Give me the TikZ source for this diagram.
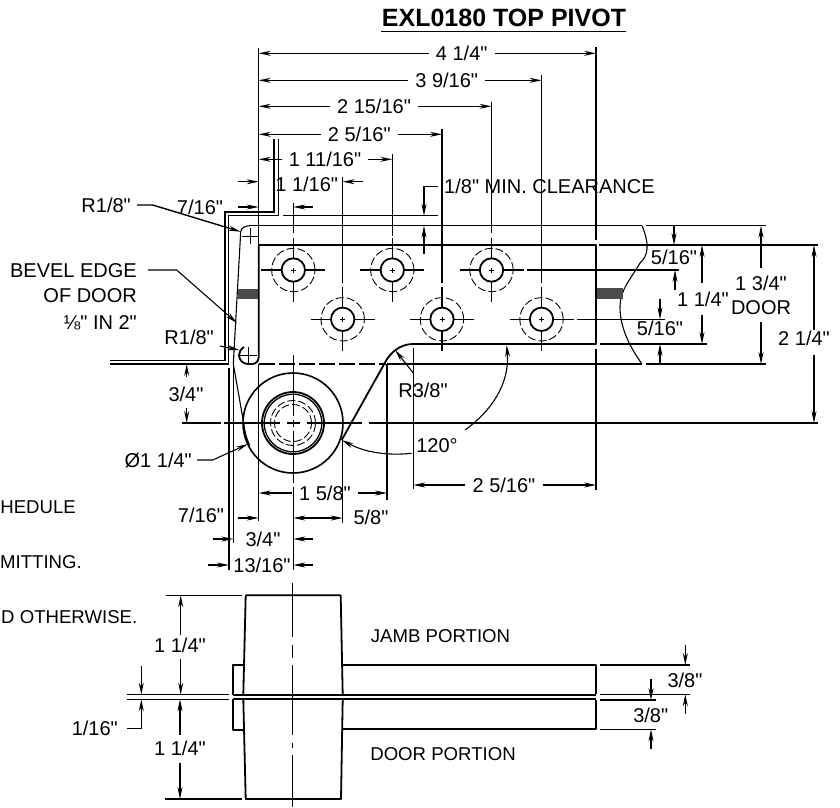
\documentclass[tikz,border=0pt]{standalone}
\usepackage{fontspec}
\setmainfont{Liberation Sans}[Ligatures=TeXOff]
\usetikzlibrary{arrows.meta,patterns}
\tikzset{>={Stealth[length=12pt,width=5pt]}}
\tikzset{
  object/.style={line width=1.8pt,line join=round},
  dimline/.style={line width=1.1pt},
  hair/.style={line width=.8pt},
  hidden/.style={line width=.9pt,dash pattern=on 8pt off 3pt},
  dimtext/.style={font=\fontsize{20}{24}\selectfont,text height=14.3pt,text depth=0pt,inner ysep=0pt,inner xsep=7pt},
  note/.style={font=\fontsize{18.6}{22}\selectfont,text height=13.3pt,text depth=0pt,inner sep=0pt},
  hatchbar/.style={fill=black!70,draw=none},
}
\begin{document}
\begin{tikzpicture}[x=1pt,y=-1pt]
\useasboundingbox (0,0) rectangle (840,807);
\coordinate (pivot) at (293,423);
\node (title) [font=\fontsize{25}{30}\selectfont\bfseries,text height=18pt,text depth=0pt,inner sep=0pt] at (504,17) {EXL0180 TOP PIVOT};
\draw[line width=1pt] (381,31.7) -- (626,31.7);

\node (w414) [dimtext] at (461.7,53.3) {4 1/4"};
\node (w39) [dimtext] at (446.7,80.3) {3 9/16"};
\node (w215) [dimtext] at (374,106.3) {2 15/16"};
\node (w25) [dimtext] at (359.3,134.3) {2 5/16"};
\node (w111) [dimtext] at (325,159.3) {1 11/16"};
\node (w11) [dimtext] at (306.7,184) {1 1/16"};
\node (w7) [dimtext] at (200,207.7) {7/16"};
\draw[dimline,->] (w414.west) -- (258.7,53.3);
\draw[dimline,->] (w414.east) -- (596,53.3);
\draw[dimline,->] (w39.west) -- (258.7,80.3);
\draw[dimline,->] (w39.east) -- (541.5,80.3);
\draw[dimline,->] (w215.west) -- (258.7,106.3);
\draw[dimline,->] (w215.east) -- (491.5,106.3);
\draw[dimline,->] (w25.west) -- (258.7,134.3);
\draw[dimline,->] (w25.east) -- (442,134.3);
\draw[dimline,->] (w111.west) -- (258.7,159.3);
\draw[dimline,->] (w111.east) -- (392.3,159.3);
\draw[dimline,->] (238,181.7) -- (258.7,181.7);
\draw[dimline,->] (363,181.7) -- (342.7,181.7);
\draw[dimline,->] (238,207) -- (258.7,207);
\draw[dimline,->] (313,207) -- (293.3,207);

\draw[dimline] (258.7,48) -- (258.7,245);
\draw[dimline] (596,47) -- (596,240);
\draw[dimline] (596,349) -- (596,490);
\draw[dimline] (541.5,75) -- (541.5,283);
\draw[dimline] (491.5,101.5) -- (491.5,233);
\draw[dimline] (442,129) -- (442,283);
\draw[dimline] (392.3,154) -- (392.3,236);
\draw[dimline] (342.7,177) -- (342.7,283);
\draw[dimline] (293.3,202.7) -- (293.3,233);

\draw[dimline] (110,360.7) -- (225,360.7) -- (225,212) -- (274,212) -- (274,139);
\draw[dimline] (110,364) -- (228.5,364) -- (228.5,215.7) -- (278.7,215.7) -- (278.7,139);
\draw[dimline] (229,368) -- (229,570);
\draw[dimline] (233.3,364) -- (233.3,543);
\draw[dimline] (283,215.7) -- (438,215.7);
\draw[dimline] (250,225.7) -- (642,225.7);
\draw[dimline] (646,225.7) -- (766,225.7);
\draw[dimline] (387,364) -- (642,364);
\draw[dimline] (646,364) -- (766,364);
\draw[dimline] (599,245) -- (818,245);
\draw[dimline] (600,344) -- (707,344);
\draw[dimline] (527,270) -- (679,270);
\draw[dimline] (576.7,319.3) -- (665,319.3);
\draw[dimline] (642,225.7) .. controls (650,245) and (648,256) .. (640,263)  .. controls (630,280) and (620,290) .. (620,307) .. controls (620,330) and (632,350) .. (642,364);

\fill[hatchbar] (237.5,289) rectangle (258.7,299.3);
\fill[hatchbar] (596,288.3) rectangle (623,299.3);

\draw[object] (258.7,357) -- (258.7,245) -- (596,245) -- (596,344) -- (413.3,344) .. controls (403,344) and (394,349) .. (387,359) -- (341.7,440);
\draw[dimline] (250,225.7) .. controls (245,225.7) and (241,228) .. (240.7,232) -- (233.3,364);
\draw[object] (244,347) .. controls (241,349) and (239,352) .. (239,355) .. controls (239,360) and (243,364) .. (248,364) -- (252,364) .. controls (256,364) and (258.7,361) .. (258.7,357);
\draw[dimline] (233.3,364) -- (243.7,423);
\draw[hair] (242,236) -- (258,236) (250,228) -- (250,244);
\draw[hair] (239,355.7) -- (257,355.7) (248,347) -- (248,364);
\draw[dimline,dash pattern=on 16pt off 4pt] (259,364) -- (386,364);

\foreach \hx/\hy in {293.3/270,392.3/270,491.5/270,342.7/319.3,442/319.3,541.5/319.3}{
  \draw[object] (\hx,\hy) circle[radius=11.7pt];
  \draw[hidden] (\hx,\hy) circle[radius=21.7pt];
  \draw[dimline] (\hx-32,\hy) -- (\hx-12,\hy) (\hx+12,\hy) -- (\hx+32,\hy);
  \draw[dimline] (\hx,\hy-32) -- (\hx,\hy-12) (\hx,\hy+12) -- (\hx,\hy+32);
  \draw[hair] (\hx-2.5,\hy) -- (\hx+2.5,\hy) (\hx,\hy-2.5) -- (\hx,\hy+2.5);
}

\draw[object,line width=1.6pt] (pivot) circle[radius=50pt];
\draw[object] (pivot) circle[radius=31pt];
\draw[line width=1.3pt] (pivot) circle[radius=28.8pt];
\draw[hidden] (pivot) circle[radius=22.5pt];
\draw[hidden] (pivot) circle[radius=18.5pt];
\draw[object] (243.5,423) .. controls (244,431) and (246,438) .. (249.5,446);

\draw[dimline] (181.7,423) -- (221,423);
\draw[dimline] (224,423) -- (280,423);
\draw[dimline] (286.7,423) -- (300,423);
\draw[dimline] (306.7,423) -- (362,423);
\draw[dimline] (369,423) -- (818,423);
\draw[dimline] (293.3,355) -- (293.3,416);
\draw[dimline] (293.3,420) -- (293.3,427);
\draw[dimline] (293.3,431) -- (293.3,483);
\draw[dimline] (293.3,487) -- (293.3,570);
\draw[dimline] (258.7,364) -- (258.7,521);
\draw[dimline] (342.7,440) -- (342.7,523);
\draw[dimline] (387,364) -- (387,500);
\draw[dimline] (413.3,348) -- (413.3,489);

\node (r18a) [dimtext,anchor=east,inner xsep=0pt] at (131,205) {R1/8"};
\coordinate (r18abend) at (152.7,205);
\draw[dimline,line width=1.4pt,->] (137,205) -- (r18abend) -- (240.7,231.7);
\node (bevel) [dimtext,anchor=east,inner xsep=0pt] at (137,270.7) {BEVEL EDGE};
\node (bevelb) [dimtext,anchor=east,inner xsep=0pt] at (137,295) {OF DOOR};
\node (bevelc) [dimtext,anchor=east,inner xsep=0pt] at (137,322.7) {⅛" IN 2"};
\draw[dimline,->] (148,270) -- (176.7,270) -- (237,323);
\node (r18b) [dimtext,anchor=east,inner xsep=0pt] at (214,337.7) {R1/8"};
\draw[dimline,->] (220,346) -- (239.3,350);
\node (h34) [dimtext] at (186,394) {3/4"};
\draw[dimline,->] (186.7,377) -- (186.7,364);
\draw[dimline,->] (186.7,408) -- (186.7,423);
\node (dia) [dimtext,anchor=east,inner xsep=0pt] at (192,460) {Ø1 1/4"};
\draw[dimline,->] (197,460) -- (212.7,460) -- (248,444);

\node (h58) [dimtext] at (325,493) {1 5/8"};
\draw[dimline,->] (h58.west) -- (258.7,493);
\draw[dimline,->] (h58.east) -- (387,493);
\node (w716) [dimtext] at (201,515) {7/16"};
\node (w58) [dimtext] at (371,517) {5/8"};
\draw[dimline,->] (238,518) -- (258.7,518);
\draw[dimline,<->] (293.3,518) -- (342.7,518);
\node (w34) [dimtext] at (263,539) {3/4"};
\draw[dimline,->] (213,539) -- (233.3,539);
\draw[dimline,->] (313,539) -- (293.3,539);
\node (w1316) [dimtext] at (262,565) {13/16"};
\draw[dimline,->] (208,565) -- (229,565);
\draw[dimline,->] (313,565) -- (293.3,565);

\node (r38) [dimtext] at (423,390) {R3/8"};
\draw[dimline,->] (413.3,373) -- (395,350);
\node (ang) [dimtext] at (437,445) {120°};
\draw[dimline,->] (411.7,453.3) .. controls (395,455) and (370,455) .. (341.7,440);
\draw[dimline,->] (465,430) .. controls (490,412) and (510,385) .. (506.7,345);
\node (w516) [dimtext] at (504,485) {2 5/16"};
\draw[dimline,->] (w516.west) -- (413.3,485);
\draw[dimline,->] (w516.east) -- (596,485);

\node (clear) [dimtext,anchor=west,inner xsep=0pt] at (444,186.7) {1/8" MIN. CLEARANCE};
\draw[dimline,->] (438,186.7) -- (424,186.7) -- (424,215.7);
\draw[dimline,->] (424,254) -- (424,225.7);

\node (u516) [dimtext] at (674,257) {5/16"};
\draw[dimline,->] (674,225) -- (674,245);
\draw[dimline,->] (675,290) -- (675,270);
\node (l516) [dimtext] at (660,328) {5/16"};
\draw[dimline,->] (660,299) -- (660,319.3);
\draw[dimline,->] (660,363.5) -- (660,344);
\node (h114) [dimtext] at (703,299) {1 1/4"};
\draw[dimline,->] (702,283) -- (702,245);
\draw[dimline,->] (702,315) -- (702,344);
\node (h134) [dimtext] at (761,283) {1 3/4"};
\node (door) [dimtext] at (761,307) {DOOR};
\draw[dimline,->] (761,268) -- (761,225.7);
\draw[dimline,->] (761,322) -- (761,364);
\node (h214) [dimtext] at (804,338) {2 1/4"};
\draw[dimline,->] (814,330) -- (814,245);
\draw[dimline,->] (814,355) -- (814,423);

\node (sched) [note,anchor=east] at (76,507.3) {HEDULE};
\node (permit) [note,anchor=east] at (82,561.7) {MITTING.};
\node (other) [note,anchor=east] at (137.5,616.7) {D OTHERWISE.};

\draw[object] (245.7,595.3) -- (340.7,595.3) -- (342.7,694.7) (243.3,694.7) -- (245.7,595.3);
\draw[object] (243.3,699.3) -- (245.7,799) -- (341,799) -- (342.7,699.3);
\draw[object] (243.3,665) -- (233.3,665) -- (233.3,694.7);
\draw[object] (233.3,699.3) -- (233.3,730) -- (243.3,730);
\draw[object] (342.7,665) -- (596,665) -- (596,694.3);
\draw[object] (596,700) -- (596,729.3) -- (342.7,729.3);
\draw[object] (233.3,694.7) -- (596,694.7);
\draw[object] (233.3,699.3) -- (596,699.3);
\draw[dimline] (126.7,694.7) -- (229.3,694.7);
\draw[dimline] (126.7,699.3) -- (229.3,699.3);
\draw[dimline] (166,595.3) -- (242,595.3);
\draw[dimline] (165,799) -- (242,799);
\draw[dimline] (292.7,583) -- (292.7,636.7);
\draw[dimline] (292.7,645) -- (292.7,658);
\draw[dimline] (292.7,665) -- (292.7,735);
\draw[dimline] (292.7,743) -- (292.7,748);
\draw[dimline] (292.7,755) -- (292.7,807);

\node (t114) [dimtext] at (180,645) {1 1/4"};
\draw[dimline,->] (180.7,635) -- (180.7,595.3);
\draw[dimline,->] (180.7,659) -- (180.7,694.7);
\node (b114) [dimtext] at (180,748) {1 1/4"};
\draw[dimline,->] (180,735) -- (180,699.3);
\draw[dimline,->] (180,763) -- (180,799);
\draw[dimline,->] (141.3,666) -- (141.3,694.7);
\node (gap) [dimtext,anchor=east,inner xsep=0pt] at (118,728) {1/16"};
\draw[dimline,->] (127,728.3) -- (141.3,728.3) -- (141.3,699.3);
\node (jamb) [note] at (440.5,636) {JAMB PORTION};
\node (doorp) [note] at (443,754) {DOOR PORTION};

\draw[dimline] (600,665) -- (690,665);
\draw[dimline] (600,694.3) -- (690,694.3);
\draw[dimline] (600,700) -- (656,700);
\draw[dimline] (600,729.3) -- (656,729.3);
\node (u38) [dimtext] at (685,680) {3/8"};
\draw[dimline,->] (685.3,645) -- (685.3,665);
\draw[dimline,->] (685.3,714) -- (685.3,694.3);
\node (l38) [dimtext] at (650.7,715) {3/8"};
\draw[dimline,->] (651,679) -- (651,700);
\draw[dimline,->] (651,749) -- (651,729.3);
\end{tikzpicture}
\end{document}
